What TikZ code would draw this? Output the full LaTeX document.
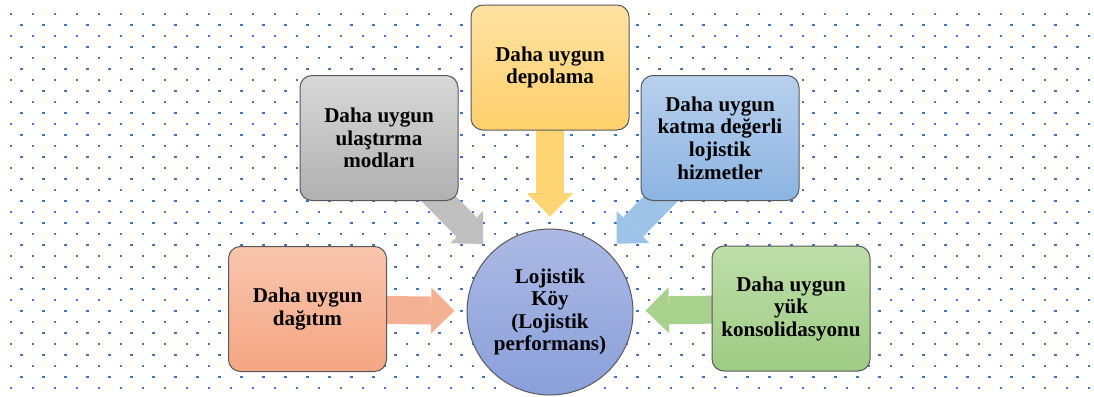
\documentclass[tikz,border=0pt]{standalone}
\usepackage{fontspec}
\setmainfont{Liberation Serif}
\usetikzlibrary{arrows.meta}

\pgfdeclarelayer{dotlayer}
\pgfdeclarelayer{arrlayer}
\pgfsetlayers{dotlayer,arrlayer,main}

\definecolor{dotblue}{RGB}{68,114,196}
\definecolor{grayarr}{RGB}{191,191,191}
\definecolor{yelarr}{RGB}{255,212,115}
\definecolor{bluarr}{RGB}{157,195,230}
\definecolor{orarr}{RGB}{244,177,148}
\definecolor{grnarr}{RGB}{169,209,142}

\begin{document}
\begin{tikzpicture}[
    x=0.75pt,
    y=-0.75pt,
    bx/.style={draw=black!65, line width=0.75pt, rounded corners=9pt,
      minimum width=118.5pt, minimum height=93.75pt, inner sep=2pt,
      align=center, font=\fontsize{15.8}{16.9}\selectfont\bfseries},
    hb/.style={circle, draw=black!65, line width=0.75pt, minimum size=124.5pt,
      inner sep=0pt, align=center, font=\fontsize{15.8}{16.9}\selectfont\bfseries,
      top color={rgb,255:red,172;green,185;blue,228},
      bottom color={rgb,255:red,138;green,160;blue,218}},
    ar/.style={line width=21pt,
      -{Triangle[width=34.5pt 0, length=17.5pt 0, line width=0pt 0]},
      shorten >=9pt},
  ]
  \useasboundingbox (0,0) rectangle (1094,396);

  % dotted paper
  \begin{pgfonlayer}{dotlayer}
    \foreach \r in {0,...,34} {
      \pgfmathsetmacro{\yy}{14+11*\r}
      \ifodd\r
        \foreach \c in {0,...,48}
          \fill[dotblue] ({21.3+22*\c-1.25},{\yy-1.25}) rectangle ++(2.5,2.5);
      \else
        \foreach \c in {0,...,49}
          \fill[dotblue] ({11+22*\c-1.25},{\yy-1.25}) rectangle ++(2.5,2.5);
      \fi
    }
  \end{pgfonlayer}

  \node[hb] (koy) at (550,312) {Lojistik\\Köy\\(Lojistik\\performans)};

  \node[bx, top color={rgb,255:red,216;green,216;blue,216},
    bottom color={rgb,255:red,176;green,176;blue,176}]
    (ulas) at (379,138) {Daha uygun\\ulaştırma\\modları};
  \node[bx, top color={rgb,255:red,255;green,226;blue,162},
    bottom color={rgb,255:red,255;green,208;blue,108}]
    (depo) at (550,67.5) {Daha uygun\\depolama};
  \node[bx, top color={rgb,255:red,184;green,208;blue,237},
    bottom color={rgb,255:red,140;green,180;blue,226}]
    (katma) at (720,138) {Daha uygun\\katma değerli\\lojistik\\hizmetler};
  \node[bx, top color={rgb,255:red,248;green,197;blue,174},
    bottom color={rgb,255:red,244;green,166;blue,130}]
    (dagit) at (307.5,309) {Daha uygun\\dağıtım};
  \node[bx, top color={rgb,255:red,190;green,222;blue,170},
    bottom color={rgb,255:red,158;green,203;blue,131}]
    (yuk) at (791,308.5) {Daha uygun\\yük\\konsolidasyonu};

  % block arrows behind the boxes
  \begin{pgfonlayer}{arrlayer}
    \draw[ar, grayarr] (ulas.center) -- (koy);
    \draw[ar, yelarr] (depo.center) -- (koy);
    \draw[ar, bluarr] (katma.center) -- (koy);
    \draw[ar, orarr] (dagit.center) -- (koy);
    \draw[ar, grnarr] (yuk.center) -- (koy);
  \end{pgfonlayer}
\end{tikzpicture}
\end{document}
